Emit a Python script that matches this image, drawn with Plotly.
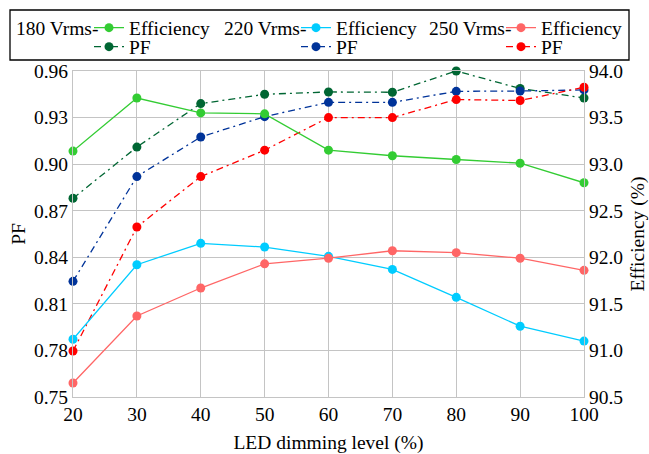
import plotly.graph_objects as go

# ---- data ----
dimming = [20, 30, 40, 50, 60, 70, 80, 90, 100]

eff_180 = [93.14, 93.71, 93.55, 93.54, 93.15, 93.09, 93.05, 93.01, 92.80]
pf_180 = [0.878, 0.911, 0.939, 0.945, 0.9465, 0.9463, 0.960, 0.9487, 0.9426]

eff_220 = [91.12, 91.92, 92.15, 92.11, 92.01, 91.87, 91.57, 91.26, 91.10]
pf_220 = [0.8245, 0.892, 0.9175, 0.9306, 0.9398, 0.9398, 0.9469, 0.9471, 0.9478]

eff_250 = [90.65, 91.37, 91.67, 91.93, 91.99, 92.07, 92.05, 91.99, 91.86]
pf_250 = [0.7796, 0.8595, 0.892, 0.909, 0.930, 0.930, 0.9416, 0.941, 0.9495]

group_labels = ["180 Vrms-", "220 Vrms-", "250 Vrms-"]
pf_ticks = [0.75, 0.78, 0.81, 0.84, 0.87, 0.90, 0.93, 0.96]
eff_ticks = [90.5, 91.0, 91.5, 92.0, 92.5, 93.0, 93.5, 94.0]
x_ticks = [20, 30, 40, 50, 60, 70, 80, 90, 100]

# ---- style ----
FONT = "Liberation Serif"
FS = 19.5
eff_colors = ["#33cc33", "#00ccff", "#ff6666"]
pf_colors = ["#006633", "#003399", "#ff0000"]
DASH = "7px,4px,2px,4px"

W, H = 649, 454
L, R, T, B = 73, 65, 71, 57
PW = W - L - R
PH = H - T - B


def px_x(p):
    return (p - L) / PW


def px_y(p):
    return (H - B - p) / PH


fig = go.Figure()

effs = [eff_180, eff_220, eff_250]
pfs = [pf_180, pf_220, pf_250]

row1_y = 28
row2_y = 47
text_x = [129, 336, 541]
label_x = [14, 222, 427]

for i in range(3):
    fig.add_trace(go.Scatter(
        x=dimming, y=effs[i], yaxis="y2", name="Efficiency",
        mode="lines+markers", cliponaxis=False,
        line=dict(color=eff_colors[i], width=1.3),
        marker=dict(color=eff_colors[i], size=9),
        legend="legend" if i == 0 else f"legend{2 * i + 1}",
    ))
    fig.add_trace(go.Scatter(
        x=dimming, y=pfs[i], yaxis="y", name="PF",
        mode="lines+markers", cliponaxis=False,
        line=dict(color=pf_colors[i], width=1.3, dash=DASH),
        marker=dict(color=pf_colors[i], size=9),
        legend=f"legend{2 * i + 2}",
    ))

for i in range(3):
    key_e = "legend" if i == 0 else f"legend{2 * i + 1}"
    key_p = f"legend{2 * i + 2}"
    for key, yy in ((key_e, row1_y), (key_p, row2_y)):
        fig.update_layout({key: dict(
            font=dict(family=FONT, size=FS, color="black"),
            bgcolor="rgba(0,0,0,0)", borderwidth=0,
            xanchor="left", yanchor="middle",
            x=px_x(text_x[i] - 40), y=px_y(yy),
        )})

for i in range(3):
    fig.add_annotation(
        text=group_labels[i], xref="paper", yref="paper",
        x=px_x(label_x[i]), y=px_y(row1_y), xanchor="left", yanchor="middle",
        showarrow=False, font=dict(family=FONT, size=FS, color="black"),
    )

fig.add_shape(
    type="rect", xref="paper", yref="paper",
    x0=px_x(10), x1=px_x(629), y0=px_y(60), y1=px_y(10),
    line=dict(color="black", width=1.3), fillcolor="rgba(0,0,0,0)",
)

GRID = "#c4c4c4"
fig.update_layout(
    width=W, height=H,
    margin=dict(l=L, r=R, t=T, b=B, autoexpand=False),
    plot_bgcolor="white", paper_bgcolor="white",
    font=dict(family=FONT, size=FS, color="black"),
    showlegend=True,
)
fig.update_xaxes(
    range=[20, 100], tickvals=x_ticks, ticktext=[str(v) for v in x_ticks],
    tickfont=dict(family=FONT, size=FS, color="black"),
    showgrid=True, gridcolor=GRID, gridwidth=1,
    showline=True, linecolor=GRID, linewidth=1, mirror=True,
    zeroline=False, ticks="",
    title=dict(text="LED dimming level (%)", font=dict(family=FONT, size=FS, color="black"), standoff=13),
    automargin=False,
)
fig.update_layout(
    yaxis=dict(
        range=[0.75, 0.96], tickvals=pf_ticks, ticktext=[f"{v:.2f}" for v in pf_ticks],
        tickfont=dict(family=FONT, size=FS, color="black"),
        showgrid=True, gridcolor=GRID, gridwidth=1,
        showline=True, linecolor=GRID, linewidth=1,
        zeroline=False, ticks="",
        title=dict(text="PF", font=dict(family=FONT, size=FS, color="black"), standoff=3),
        automargin=False,
    ),
    yaxis2=dict(
        range=[90.5, 94.0], tickvals=eff_ticks, ticktext=[f"{v:.1f}" for v in eff_ticks],
        tickfont=dict(family=FONT, size=FS, color="black"),
        overlaying="y", side="right",
        showgrid=False, showline=True, linecolor=GRID, linewidth=1,
        zeroline=False, ticks="",
        title=dict(text="Efficiency (%)", font=dict(family=FONT, size=FS, color="black"), standoff=12),
        automargin=False,
    ),
)

fig.write_html("out.html")
